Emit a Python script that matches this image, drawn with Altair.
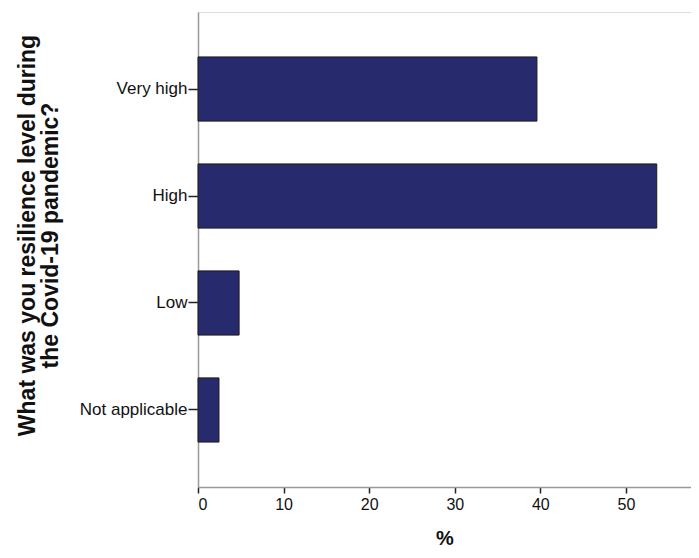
import altair as alt
import pandas as pd

categories = ["Very high", "High", "Low", "Not applicable"]
percents = [39.6, 53.6, 4.8, 2.45]
x_ticks = [0, 10, 20, 30, 40, 50]

df = pd.DataFrame({"level": categories, "pct": percents})

chart = alt.Chart(df).mark_bar(
    color="#282a6e", stroke="#1a1a1a", strokeWidth=1
).encode(
    x=alt.X("pct:Q",
            scale=alt.Scale(domain=[0, 57.6], nice=False, zero=True),
            axis=alt.Axis(values=x_ticks, title="%", grid=False,
                          tickSize=6, tickColor="#222", tickWidth=1.5,
                          domainColor="#999", domainWidth=1.5,
                          labelFont="Arial", labelFontSize=16, labelColor="#111",
                          labelPadding=3,
                          titleFont="Arial", titleFontSize=20, titleFontWeight="bold",
                          titleColor="#111", titleBaseline="bottom", titleY=61)),
    y=alt.Y("level:N", sort=categories,
            scale=alt.Scale(paddingInner=0.4, paddingOuter=0.42),
            axis=alt.Axis(title=["What was you resilience level during", "the Covid-19 pandemic?"],
                          grid=False, tickSize=10, tickColor="#222", tickWidth=1.5,
                          domainColor="#999", domainWidth=1.5,
                          labelFont="Arial", labelFontSize=17, labelColor="#111",
                          labelPadding=1,
                          titleFont="Arial", titleFontSize=23, titleFontWeight="bold",
                          titleColor="#111", titleAngle=270, titleAlign="center",
                          titleBaseline="middle", titleLineHeight=23,
                          titleX=-171, titleY=223)),
).properties(
    width=493, height=475,
    autosize=alt.AutoSizeParams(type="none"),
    padding={"left": 190, "top": 4, "right": 0, "bottom": 62},
).configure_view(stroke=None).configure(background="white")

chart.save("out.html", embed_options={"renderer": "svg", "actions": False})
